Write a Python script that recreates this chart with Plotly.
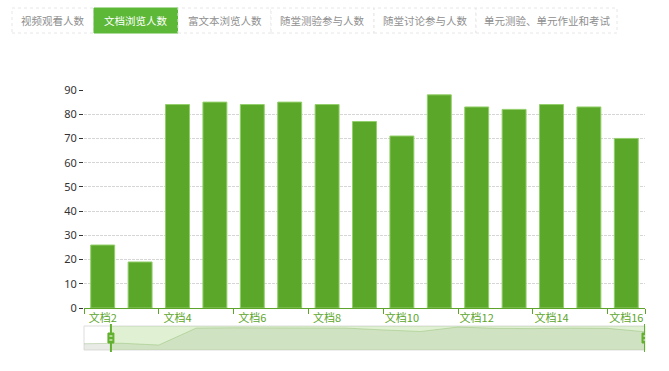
import plotly.graph_objects as go

# ---- data ----
categories = ["文档%d" % i for i in range(2, 17)]
values = [26, 19, 84, 85, 84, 85, 84, 77, 71, 88, 83, 82, 84, 83, 70]
# full series shown in the zoom slider (includes 文档1 hidden by the zoom window)
all_categories = ["文档1"] + categories
all_values = [24] + values
tick_labels = categories[::2]
tab_labels = ["视频观看人数", "文档浏览人数", "富文本浏览人数", "随堂测验参与人数", "随堂讨论参与人数", "单元测验、单元作业和考试"]
active_tab = 1
zoom_start_pct = 4.8  # dataZoom window start (percent)

# ---- layout constants (pixels) ----
W, H = 669, 371
tab_edges = [12, 94, 178, 271, 374, 476, 617]
tab_top, tab_bot = 8, 33
plot_l, plot_r = 84, 645
plot_top, plot_bot = 90, 308
sl_top, sl_bot = 326, 350

def px(x):
    return x / W

def py(y):
    return 1 - y / H

bar_green = "#5ba72a"
axis_green = "#5ca52a"
tab_green = "#5db838"

fig = go.Figure()

fig.add_trace(go.Bar(
    x=categories, y=values,
    marker=dict(color=bar_green, line=dict(color="#93cf6a", width=1)),
    width=0.64, xaxis="x", yaxis="y", hoverinfo="x+y",
))

# slider data shadow
n = len(all_values)
fig.add_trace(go.Scatter(
    x=list(range(n)), y=all_values, mode="lines",
    line=dict(color="rgba(120,170,90,0.35)", width=1),
    fill="tozeroy", fillcolor="rgba(200,205,195,0.4)",
    xaxis="x2", yaxis="y2", hoverinfo="skip",
))

shapes = []
annotations = []

# tabs
for i, lab in enumerate(tab_labels):
    x0, x1 = tab_edges[i], tab_edges[i + 1]
    active = i == active_tab
    shapes.append(dict(
        type="rect", xref="paper", yref="paper",
        x0=px(x0), x1=px(x1), y0=py(tab_bot), y1=py(tab_top),
        fillcolor=tab_green if active else "white",
        line=dict(color=tab_green if active else "#e6e6e6", width=1, dash="solid" if active else "dot"),
        layer="below",
    ))
    annotations.append(dict(
        xref="paper", yref="paper", x=px((x0 + x1) / 2), y=py((tab_top + tab_bot) / 2),
        text=lab, showarrow=False, xanchor="center", yanchor="middle",
        font=dict(size=10.5, color="white" if active else "#8f8f8f", family="Noto Sans CJK SC"),
    ))

# slider frame
start_x = (n - 1) * zoom_start_pct / 100.0
shapes.append(dict(type="rect", xref="paper", yref="paper",
                   x0=px(plot_l), x1=px(plot_r), y0=py(sl_bot), y1=py(sl_top),
                   line=dict(color="#dddddd", width=1), fillcolor="rgba(0,0,0,0)", layer="below"))
shapes.append(dict(type="rect", xref="x2", yref="paper",
                   x0=start_x, x1=n - 1, y0=py(sl_bot), y1=py(sl_top),
                   line=dict(width=0), fillcolor="rgba(130,200,80,0.25)", layer="above"))
# handles
for hx in (start_x, n - 1):
    shapes.append(dict(type="line", xref="x2", yref="paper", x0=hx, x1=hx,
                       y0=py(sl_bot + 2), y1=py(sl_top - 2),
                       line=dict(color="#62b02f", width=2)))
    mid = (sl_top + sl_bot) / 2
    shapes.append(dict(type="rect", xref="x2", yref="paper",
                       x0=hx - 0.08, x1=hx + 0.08, y0=py(mid + 5), y1=py(mid - 5),
                       line=dict(color="#62b02f", width=1), fillcolor="#62b02f"))
    for dy in (-2, 2):
        shapes.append(dict(type="line", xref="x2", yref="paper", x0=hx - 0.04, x1=hx + 0.04,
                           y0=py(mid + dy), y1=py(mid + dy),
                           line=dict(color="white", width=1)))

fig.update_layout(
    width=W, height=H,
    margin=dict(l=0, r=0, t=0, b=0, autoexpand=False),
    paper_bgcolor="white", plot_bgcolor="white",
    showlegend=False,
    bargap=0.36,
    font=dict(family="Noto Sans CJK SC, Noto Sans", size=11, color="#333"),
    xaxis=dict(
        domain=[px(plot_l), px(plot_r)], anchor="y", automargin=False,
        type="category", categoryorder="array", categoryarray=categories,
        range=[-0.5, len(categories) - 0.5],
        tickmode="array", tickvals=tick_labels, ticktext=tick_labels,
        tickson="boundaries", ticks="outside", ticklen=5, tickcolor=axis_green,
        tickangle=0,
        showline=True, linecolor=axis_green, linewidth=1,
        showgrid=False, zeroline=False,
        tickfont=dict(size=11, color=axis_green, family="Noto Sans CJK SC"),
    ),
    yaxis=dict(
        domain=[py(plot_bot), py(plot_top)], anchor="x", automargin=False,
        range=[0, 90], tickmode="linear", tick0=0, dtick=10,
        ticks="outside", ticklen=4, tickcolor="#333",
        showline=False, zeroline=False,
        showgrid=True, gridcolor="#d6d6d6", gridwidth=1, griddash="3px,1px",
        tickfont=dict(size=11, color="#333", family="Noto Sans, Liberation Sans"),
    ),
    xaxis2=dict(
        domain=[px(plot_l), px(plot_r)], anchor="y2", automargin=False,
        range=[0, n - 1], visible=False, fixedrange=True,
    ),
    yaxis2=dict(
        domain=[py(sl_bot), py(sl_top)], anchor="x2", automargin=False,
        range=[0, 92], visible=False, fixedrange=True,
    ),
    shapes=shapes,
    annotations=annotations,
)

fig.write_html("out.html")
